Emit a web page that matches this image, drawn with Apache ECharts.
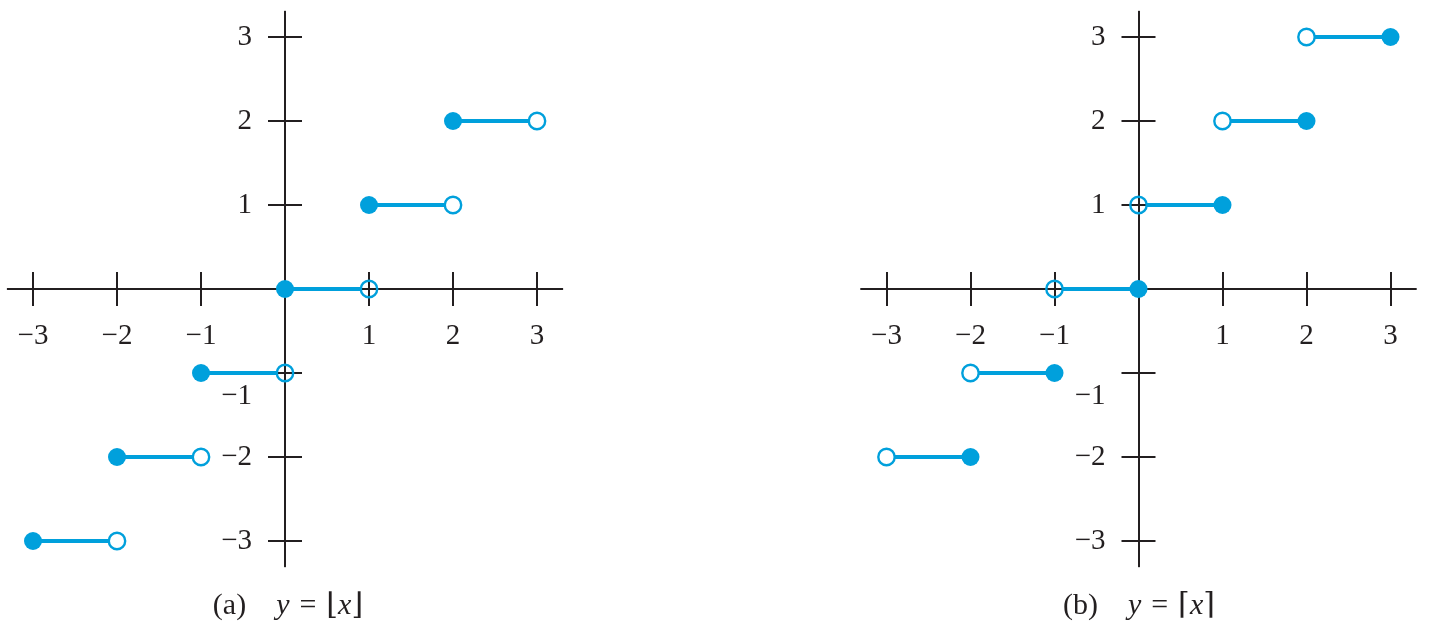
<!DOCTYPE html>
<html><head><meta charset="utf-8">
<script src="https://cdn.jsdelivr.net/npm/echarts@6/dist/echarts.min.js"></script>
<style>html,body{margin:0;padding:0;background:#fff}#c{width:1434px;height:638px}</style>
</head><body><div id="c"></div>
<script>
// ---- data ----
const xTickValues = [-3, -2, -1, 1, 2, 3];
const yTickValues = [3, 2, 1, -1, -2, -3];
const segStart = [-3, -2, -1, 0, 1, 2];
const segEnd = [-2, -1, 0, 1, 2, 3];
const floorValues = [-3, -2, -1, 0, 1, 2];   // y = floor(x): closed at left end
const ceilValues = [-2, -1, 0, 1, 2, 3];     // y = ceil(x): closed at right end
const captionA = '(a)\u2003{i|y}\u2004=\u2004\u230A{i|x}\u230B';
const captionB = '(b)\u2003{i|y}\u2004=\u2004\u2308{i|x}\u2309';

// ---- style ----
const BLUE = '#00a0dc';
const INK = '#231f20';
const FONT = "'Liberation Serif', 'DejaVu Serif', serif";
const FS = 29;
const CAP_FS = 30;
const fmt = v => (v < 0 ? '\u2212' + (-v) : String(v));

const grids = [
  { left: 7.8, top: 11.8, width: 554.4, height: 554.4, outerBoundsMode: 'none', containLabel: false },
  { left: 861.3, top: 11.8, width: 554.4, height: 554.4, outerBoundsMode: 'none', containLabel: false }
];
const HALF = 277.2;

const xAxes = [], yAxes = [];
grids.forEach((g, gi) => {
  // two line/tick axes (ticks on both sides), sitting on zero
  [true, false].forEach(inside => {
    xAxes.push({
      gridIndex: gi, type: 'value', min: -3.3, max: 3.3, position: 'bottom',
      axisLine: { onZero: true, onZeroAxisIndex: gi * 3, lineStyle: { color: INK, width: 2 } },
      axisTick: { show: true, inside: inside, length: 17, customValues: xTickValues, lineStyle: { color: INK, width: 2 } },
      axisLabel: { show: false }, splitLine: { show: false }
    });
    yAxes.push({
      gridIndex: gi, type: 'value', min: -3.3, max: 3.3, position: 'left',
      axisLine: { onZero: true, onZeroAxisIndex: gi * 3, lineStyle: { color: INK, width: 2 } },
      axisTick: { show: true, inside: inside, length: 17, customValues: yTickValues, lineStyle: { color: INK, width: 2 } },
      axisLabel: { show: false }, splitLine: { show: false }
    });
  });
  // label axes, moved to the centre with offset
  xAxes.push({
    gridIndex: gi, type: 'value', min: -3.3, max: 3.3, position: 'bottom', offset: -HALF,
    axisLine: { show: false, onZero: false }, axisTick: { show: false },
    axisLabel: { show: true, customValues: xTickValues, formatter: fmt, margin: 33,
      color: INK, fontFamily: FONT, fontSize: FS },
    splitLine: { show: false }
  });
  yAxes.push({
    gridIndex: gi, type: 'value', min: -3.3, max: 3.3, position: 'left', offset: -HALF,
    axisLine: { show: false, onZero: false }, axisTick: { show: false },
    axisLabel: { show: true, customValues: yTickValues, margin: 33,
      formatter: v => (v === -1 ? '{low|' + fmt(v) + '}' : fmt(v)),
      color: INK, fontFamily: FONT, fontSize: FS,
      rich: { low: { padding: [46, 0, 0, 0], color: INK, fontFamily: FONT, fontSize: FS } } },
    splitLine: { show: false }
  });
});

function renderStep(params, api) {
  const x0 = api.value(0), x1 = api.value(1), y = api.value(2);
  const closedLeft = api.value(3) === 1;
  const p0 = api.coord([x0, y]), p1 = api.coord([x1, y]);
  const r = 8.2;
  const a = p0.slice(), b = p1.slice();
  if (closedLeft) b[0] -= r; else a[0] += r;
  const closed = closedLeft ? p0 : p1;
  const open = closedLeft ? p1 : p0;
  return {
    type: 'group',
    children: [
      { type: 'line', shape: { x1: a[0], y1: a[1], x2: b[0], y2: b[1] },
        style: { stroke: BLUE, lineWidth: 4 } },
      { type: 'circle', shape: { cx: closed[0], cy: closed[1], r: 9 },
        style: { fill: BLUE } },
      { type: 'circle', shape: { cx: open[0], cy: open[1], r: r },
        style: { fill: 'none', stroke: BLUE, lineWidth: 2.4 } }
    ]
  };
}

const floorData = segStart.map((s, i) => [s, segEnd[i], floorValues[i], 1]);
const ceilData = segStart.map((s, i) => [s, segEnd[i], ceilValues[i], 0]);

const capStyle = (text, x) => ({
  type: 'text', x: x, y: 606,
  style: { text: text, fill: INK, fontFamily: FONT, fontSize: CAP_FS, align: 'center', verticalAlign: 'middle',
    rich: { i: { fontStyle: 'italic', fill: INK, fontFamily: FONT, fontSize: CAP_FS } } }
});

const chart = echarts.init(document.getElementById('c'), null, { renderer: 'canvas' });
chart.setOption({
  animation: false,
  backgroundColor: '#fff',
  grid: grids,
  xAxis: xAxes,
  yAxis: yAxes,
  series: [
    { type: 'custom', xAxisIndex: 0, yAxisIndex: 0, renderItem: renderStep, data: floorData, clip: false, z: 5 },
    { type: 'custom', xAxisIndex: 3, yAxisIndex: 3, renderItem: renderStep, data: ceilData, clip: false, z: 5 }
  ],
  graphic: [capStyle(captionA, 288), capStyle(captionB, 1139)]
});
</script></body></html>
